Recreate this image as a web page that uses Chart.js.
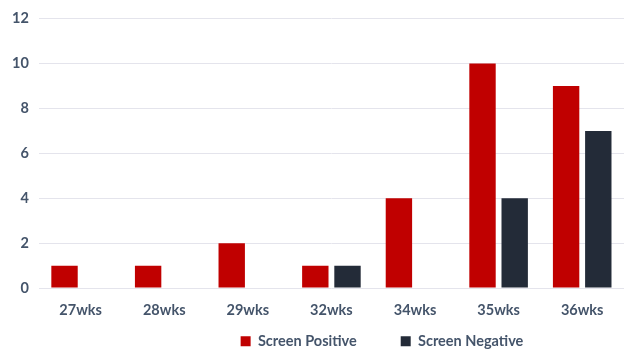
<!DOCTYPE html>
<html>
<head>
<meta charset="utf-8">
<script src="https://cdn.jsdelivr.net/npm/chart.js@4"></script>
<style>
  html, body { margin: 0; padding: 0; background: #fff; }
  #wrap { width: 624px; height: 350px; }
</style>
</head>
<body>
<div id="wrap"><canvas id="chart"></canvas></div>
<script>
const weeks = ['27wks', '28wks', '29wks', '32wks', '34wks', '35wks', '36wks'];
const screenPositive = [1, 1, 2, 1, 4, 10, 9];
const screenNegative = [0, 0, 0, 1, 0, 4, 7];
const yTicks = [0, 2, 4, 6, 8, 10, 12];

const textColor = '#44546a';
const font = { family: 'Lato', size: 14.5, weight: 'bold' };
const legendGap = 44;

// legend items need a wide gap but sit close to the axis labels, a bit right of centre
const moveLegend = {
    id: 'moveLegend',
    afterLayout(chart) {
        const lg = chart.legend;
        const shift = (lg.top + legendGap + 8) - 342;
        lg.top -= shift;
        lg.bottom -= shift;
        lg.left += 69;
        lg.right += 69;
    }
};

new Chart(document.getElementById('chart'), {
    type: 'bar',
    data: {
        labels: weeks,
        datasets: [{
            label: 'Screen Positive',
            data: screenPositive,
            backgroundColor: '#c00000'
        }, {
            label: 'Screen Negative',
            data: screenNegative,
            backgroundColor: '#232b38'
        }]
    },
    options: {
        responsive: true,
        maintainAspectRatio: false,
        animation: false,
        layout: { padding: { top: -2, right: 0, left: 2, bottom: -44 } },
        datasets: {
            bar: { categoryPercentage: 0.77, barPercentage: 0.82 }
        },
        scales: {
            x: {
                grid: { display: false },
                border: { display: false },
                ticks: { color: textColor, font: font, padding: 6 }
            },
            y: {
                min: 0,
                max: 12,
                afterBuildTicks: axis => { axis.ticks = yTicks.map(v => ({ value: v })); },
                grid: { color: '#e4e4ec', lineWidth: 1, drawTicks: false },
                border: { display: false },
                ticks: { color: textColor, font: font, padding: 10 }
            }
        },
        plugins: {
            legend: {
                position: 'bottom',
                labels: {
                    color: textColor,
                    font: font,
                    boxWidth: 10,
                    boxHeight: 10,
                    padding: legendGap
                }
            },
            tooltip: { enabled: false }
        }
    },
    plugins: [moveLegend]
});
</script>
</body>
</html>
